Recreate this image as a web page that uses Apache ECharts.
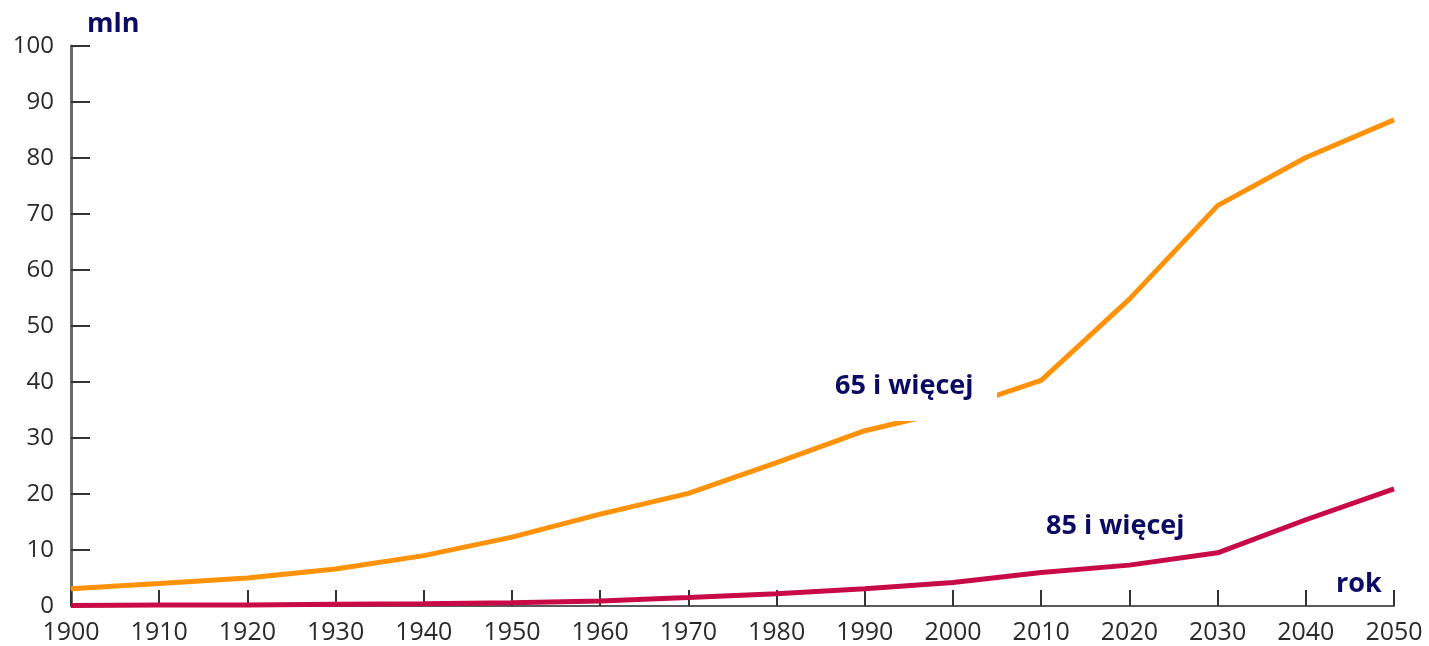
<!DOCTYPE html>
<html><head><meta charset="utf-8">
<script src="https://cdn.jsdelivr.net/npm/echarts@6/dist/echarts.min.js"></script>
<style>html,body{margin:0;padding:0;background:#fff}#c{width:1429px;height:646px}</style>
</head><body><div id="c"></div>
<script>
const years = [1900,1910,1920,1930,1940,1950,1960,1970,1980,1990,2000,2010,2020,2030,2040,2050];
const age65 = [3.1,4.0,5.0,6.6,9.0,12.3,16.4,20.1,25.6,31.3,35.0,40.3,54.8,71.5,80.1,86.8];
const age85 = [0.1,0.2,0.2,0.3,0.4,0.6,0.9,1.5,2.2,3.1,4.2,6.0,7.3,9.5,15.4,20.9];
const yTicks = [0,10,20,30,40,50,60,70,80,90,100];
const labels = {yUnit:'mln', xUnit:'rok', s65:'65 i więcej', s85:'85 i więcej'};

const chart = echarts.init(document.getElementById('c'));
const font = {fontFamily:'Open Sans', fontWeight:'bold', fontSize:27, fill:'#0b0b64', verticalAlign:'middle'};
const st = (t)=>Object.assign({text:t}, font);
chart.setOption({
  animation:false,
  grid:{left:71,right:35,top:46,bottom:40},
  xAxis:{type:'value',min:1900,max:2050,interval:10,
    axisLine:{lineStyle:{color:'#5a5a5a',width:2}},
    axisTick:{inside:true,length:16,lineStyle:{color:'#333',width:2}},
    axisLabel:{color:'#2a2a2a',fontSize:25,fontFamily:'Open Sans',margin:14,formatter:v=>String(v)},
    splitLine:{show:false}},
  yAxis:{type:'value',min:0,max:100,interval:10,
    axisLine:{show:true,lineStyle:{color:'#6a6a6a',width:3}},
    axisTick:{show:true,inside:true,length:19,lineStyle:{color:'#333',width:2}},
    axisLabel:{color:'#2a2a2a',fontSize:24,fontFamily:'Open Sans',margin:17,
      formatter:v=>yTicks.includes(v)?String(v):''},
    splitLine:{show:false}},
  series:[
    {type:'line',name:labels.s65,data:years.map((y,i)=>[y,age65[i]]),showSymbol:false,
      lineStyle:{color:'#ff9208',width:5},z:2},
    {type:'line',name:labels.s85,data:years.map((y,i)=>[y,age85[i]]),showSymbol:false,
      lineStyle:{color:'#c80a46',width:5},z:3}
  ],
  graphic:[
    {type:'text',x:87,y:24,style:st(labels.yUnit)},
    {type:'text',x:1336,y:584,style:st(labels.xUnit)},
    {type:'rect',shape:{x:826,y:364,width:171,height:57},style:{fill:'#fff'},z:10},
    {type:'text',x:835,y:386,z:11,style:st(labels.s65)},
    {type:'rect',shape:{x:1030,y:503,width:177,height:48},style:{fill:'#fff'},z:10},
    {type:'text',x:1046,y:526,z:11,style:st(labels.s85)}
  ]
});
</script></body></html>
